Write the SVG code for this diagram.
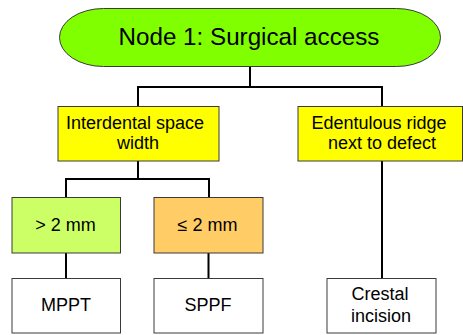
<svg xmlns="http://www.w3.org/2000/svg" width="463" height="335" viewBox="0 0 463 335">
  <style>
    .box { stroke: #3a3a3a; stroke-width: 1; }
    .wire { fill: none; stroke: #000; stroke-width: 2; }
    text { font-family: "Liberation Sans", Arial, sans-serif; fill: #000; text-anchor: middle; }
    .t1 { font-size: 24.2px; }
    .t2 { font-size: 18px; }
  </style>
  <rect width="463" height="335" fill="#fff"/>

  <g id="connectors">
    <path class="wire" d="M250 67 V87 M138 87 H382 M138 86 V106 M382 86 V106"/>
    <path class="wire" d="M138 161 V179 M66 179 H209 M66 178 V197 M209 178 V197"/>
    <path class="wire" d="M66 253 V278 M208.5 253 V278"/>
    <path class="wire" d="M382 161 V278"/>
  </g>

  <g id="node1">
    <rect class="box" x="59.5" y="8.5" width="381" height="58" rx="44" ry="29" fill="#80ff00"/>
    <text class="t1" x="249" y="45">Node 1: Surgical access</text>
  </g>

  <g id="interdental">
    <rect class="box" x="58" y="106.5" width="161" height="54.5" fill="#ffff00"/>
    <text class="t2" x="135" y="128.5">Interdental space</text>
    <text class="t2" x="138" y="148.5">width</text>
  </g>

  <g id="edentulous">
    <rect class="box" x="298" y="106.5" width="164.5" height="54.5" fill="#ffff00"/>
    <text class="t2" x="379" y="128.5">Edentulous ridge</text>
    <text class="t2" x="382" y="148.5">next to defect</text>
  </g>

  <g id="wide">
    <rect class="box" x="12" y="197.5" width="108.5" height="55.5" fill="#ccff66"/>
    <text class="t2" x="65.5" y="230.5">&gt; 2 mm</text>
  </g>

  <g id="narrow">
    <rect class="box" x="154" y="197.5" width="109" height="55.5" fill="#ffcc66"/>
    <text class="t2" x="207.5" y="230.5">≤ 2 mm</text>
  </g>

  <g id="mppt">
    <rect class="box" x="12" y="278.5" width="108.5" height="54.5" fill="#fff"/>
    <text class="t2" x="66" y="311">MPPT</text>
  </g>

  <g id="sppf">
    <rect class="box" x="154" y="278.5" width="109" height="54.5" fill="#fff"/>
    <text class="t2" x="208" y="311">SPPF</text>
  </g>

  <g id="crestal">
    <rect class="box" x="327" y="278.5" width="109" height="54.5" fill="#fff"/>
    <text class="t2" x="380" y="300">Crestal</text>
    <text class="t2" x="381" y="321.5">incision</text>
  </g>
</svg>
